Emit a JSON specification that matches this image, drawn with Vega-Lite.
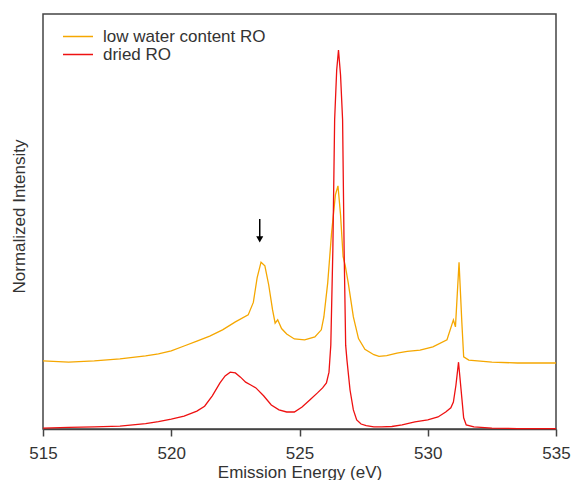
{
  "$schema": "https://vega.github.io/schema/vega-lite/v6.json",
  "autosize": {"type": "none"},
  "width": 513,
  "height": 415,
  "padding": {"left": 43, "top": 14, "right": 15, "bottom": 51},
  "background": "white",
  "config": {
    "font": "Liberation Sans",
    "view": {"stroke": "#444444", "strokeWidth": 1.5},
    "axis": {"grid": false}
  },
  "datasets": {
    "spectra": [
      {"s": "dried RO", "e": 515.0, "v": 0.002},
      {"s": "dried RO", "e": 516.0, "v": 0.004},
      {"s": "dried RO", "e": 517.0, "v": 0.005},
      {"s": "dried RO", "e": 518.0, "v": 0.007},
      {"s": "dried RO", "e": 518.5, "v": 0.010},
      {"s": "dried RO", "e": 519.0, "v": 0.013},
      {"s": "dried RO", "e": 519.5, "v": 0.018},
      {"s": "dried RO", "e": 520.0, "v": 0.024},
      {"s": "dried RO", "e": 520.5, "v": 0.031},
      {"s": "dried RO", "e": 521.0, "v": 0.043},
      {"s": "dried RO", "e": 521.3, "v": 0.055},
      {"s": "dried RO", "e": 521.6, "v": 0.080},
      {"s": "dried RO", "e": 521.9, "v": 0.111},
      {"s": "dried RO", "e": 522.1, "v": 0.128},
      {"s": "dried RO", "e": 522.3, "v": 0.137},
      {"s": "dried RO", "e": 522.5, "v": 0.135},
      {"s": "dried RO", "e": 522.7, "v": 0.125},
      {"s": "dried RO", "e": 522.9, "v": 0.113},
      {"s": "dried RO", "e": 523.1, "v": 0.106},
      {"s": "dried RO", "e": 523.3, "v": 0.099},
      {"s": "dried RO", "e": 523.6, "v": 0.080},
      {"s": "dried RO", "e": 523.9, "v": 0.058},
      {"s": "dried RO", "e": 524.2, "v": 0.046},
      {"s": "dried RO", "e": 524.5, "v": 0.041},
      {"s": "dried RO", "e": 524.8, "v": 0.041},
      {"s": "dried RO", "e": 525.1, "v": 0.053},
      {"s": "dried RO", "e": 525.4, "v": 0.070},
      {"s": "dried RO", "e": 525.7, "v": 0.087},
      {"s": "dried RO", "e": 525.9, "v": 0.099},
      {"s": "dried RO", "e": 526.05, "v": 0.111},
      {"s": "dried RO", "e": 526.15, "v": 0.137},
      {"s": "dried RO", "e": 526.22, "v": 0.202},
      {"s": "dried RO", "e": 526.3, "v": 0.431},
      {"s": "dried RO", "e": 526.37, "v": 0.745},
      {"s": "dried RO", "e": 526.45, "v": 0.865},
      {"s": "dried RO", "e": 526.52, "v": 0.913},
      {"s": "dried RO", "e": 526.6, "v": 0.853},
      {"s": "dried RO", "e": 526.68, "v": 0.745},
      {"s": "dried RO", "e": 526.74, "v": 0.431},
      {"s": "dried RO", "e": 526.8, "v": 0.202},
      {"s": "dried RO", "e": 526.85, "v": 0.166},
      {"s": "dried RO", "e": 526.97, "v": 0.094},
      {"s": "dried RO", "e": 527.1, "v": 0.046},
      {"s": "dried RO", "e": 527.23, "v": 0.022},
      {"s": "dried RO", "e": 527.4, "v": 0.012},
      {"s": "dried RO", "e": 527.6, "v": 0.008},
      {"s": "dried RO", "e": 527.9, "v": 0.005},
      {"s": "dried RO", "e": 528.2, "v": 0.005},
      {"s": "dried RO", "e": 528.6, "v": 0.006},
      {"s": "dried RO", "e": 529.0, "v": 0.010},
      {"s": "dried RO", "e": 529.5, "v": 0.017},
      {"s": "dried RO", "e": 530.0, "v": 0.022},
      {"s": "dried RO", "e": 530.4, "v": 0.029},
      {"s": "dried RO", "e": 530.7, "v": 0.041},
      {"s": "dried RO", "e": 530.9, "v": 0.051},
      {"s": "dried RO", "e": 531.0, "v": 0.065},
      {"s": "dried RO", "e": 531.1, "v": 0.106},
      {"s": "dried RO", "e": 531.2, "v": 0.161},
      {"s": "dried RO", "e": 531.3, "v": 0.094},
      {"s": "dried RO", "e": 531.4, "v": 0.027},
      {"s": "dried RO", "e": 531.5, "v": 0.010},
      {"s": "dried RO", "e": 531.8, "v": 0.005},
      {"s": "dried RO", "e": 532.5, "v": 0.002},
      {"s": "dried RO", "e": 533.5, "v": 0.001},
      {"s": "dried RO", "e": 535.0, "v": 0.001},
      {"s": "low water content RO", "e": 515.0, "v": 0.164},
      {"s": "low water content RO", "e": 516.0, "v": 0.161},
      {"s": "low water content RO", "e": 517.0, "v": 0.164},
      {"s": "low water content RO", "e": 518.0, "v": 0.169},
      {"s": "low water content RO", "e": 519.0, "v": 0.176},
      {"s": "low water content RO", "e": 519.5, "v": 0.181},
      {"s": "low water content RO", "e": 520.0, "v": 0.188},
      {"s": "low water content RO", "e": 520.5, "v": 0.200},
      {"s": "low water content RO", "e": 521.0, "v": 0.212},
      {"s": "low water content RO", "e": 521.5, "v": 0.224},
      {"s": "low water content RO", "e": 522.0, "v": 0.239},
      {"s": "low water content RO", "e": 522.5, "v": 0.258},
      {"s": "low water content RO", "e": 523.0, "v": 0.275},
      {"s": "low water content RO", "e": 523.2, "v": 0.305},
      {"s": "low water content RO", "e": 523.35, "v": 0.365},
      {"s": "low water content RO", "e": 523.5, "v": 0.402},
      {"s": "low water content RO", "e": 523.65, "v": 0.393},
      {"s": "low water content RO", "e": 523.8, "v": 0.347},
      {"s": "low water content RO", "e": 523.95, "v": 0.287},
      {"s": "low water content RO", "e": 524.05, "v": 0.255},
      {"s": "low water content RO", "e": 524.15, "v": 0.263},
      {"s": "low water content RO", "e": 524.3, "v": 0.242},
      {"s": "low water content RO", "e": 524.5, "v": 0.229},
      {"s": "low water content RO", "e": 524.8, "v": 0.217},
      {"s": "low water content RO", "e": 525.2, "v": 0.215},
      {"s": "low water content RO", "e": 525.6, "v": 0.222},
      {"s": "low water content RO", "e": 525.85, "v": 0.239},
      {"s": "low water content RO", "e": 525.95, "v": 0.270},
      {"s": "low water content RO", "e": 526.1, "v": 0.352},
      {"s": "low water content RO", "e": 526.25, "v": 0.472},
      {"s": "low water content RO", "e": 526.4, "v": 0.564},
      {"s": "low water content RO", "e": 526.5, "v": 0.586},
      {"s": "low water content RO", "e": 526.6, "v": 0.516},
      {"s": "low water content RO", "e": 526.7, "v": 0.415},
      {"s": "low water content RO", "e": 526.78, "v": 0.395},
      {"s": "low water content RO", "e": 526.9, "v": 0.352},
      {"s": "low water content RO", "e": 527.1, "v": 0.270},
      {"s": "low water content RO", "e": 527.3, "v": 0.218},
      {"s": "low water content RO", "e": 527.55, "v": 0.192},
      {"s": "low water content RO", "e": 527.9, "v": 0.179},
      {"s": "low water content RO", "e": 528.1, "v": 0.175},
      {"s": "low water content RO", "e": 528.4, "v": 0.177},
      {"s": "low water content RO", "e": 528.8, "v": 0.183},
      {"s": "low water content RO", "e": 529.2, "v": 0.187},
      {"s": "low water content RO", "e": 529.7, "v": 0.190},
      {"s": "low water content RO", "e": 530.2, "v": 0.198},
      {"s": "low water content RO", "e": 530.75, "v": 0.215},
      {"s": "low water content RO", "e": 531.0, "v": 0.263},
      {"s": "low water content RO", "e": 531.08, "v": 0.246},
      {"s": "low water content RO", "e": 531.22, "v": 0.402},
      {"s": "low water content RO", "e": 531.33, "v": 0.256},
      {"s": "low water content RO", "e": 531.4, "v": 0.174},
      {"s": "low water content RO", "e": 531.6, "v": 0.166},
      {"s": "low water content RO", "e": 532.5, "v": 0.161},
      {"s": "low water content RO", "e": 533.5, "v": 0.159},
      {"s": "low water content RO", "e": 535.0, "v": 0.159}
    ],
    "arrow": [
      {"e": 523.45, "top": 0.506, "bottom": 0.462, "head": 0.457}
    ]
  },
  "layer": [
    {
      "data": {"name": "spectra"},
      "transform": [{"filter": "datum.s === 'low water content RO'"}],
      "mark": {"type": "line", "strokeWidth": 1.3},
      "encoding": {
        "x": {
          "field": "e", "type": "quantitative",
          "scale": {"domain": [515, 535], "nice": false, "zero": false},
          "axis": {
            "title": "Emission Energy (eV)",
            "values": [515, 520, 525, 530, 535],
            "format": "d",
            "labelFlush": false,
            "domainColor": "#444444", "domainWidth": 1.5,
            "tickColor": "#444444", "tickWidth": 1.5, "tickSize": 7,
            "labelFontSize": 17, "labelColor": "#333333", "labelPadding": 9,
            "labelFont": "Liberation Sans",
            "titleFont": "Liberation Sans", "titleFontSize": 17, "titleFontWeight": "normal",
            "titleColor": "#333333", "titlePadding": 3
          }
        },
        "y": {
          "field": "v", "type": "quantitative",
          "scale": {"domain": [0, 1], "nice": false},
          "axis": {
            "title": "Normalized Intensity",
            "labels": false, "ticks": false, "domain": false,
            "titleFont": "Liberation Sans", "titleFontSize": 17, "titleFontWeight": "normal",
            "titleColor": "#333333", "titlePadding": 15, "titleY": 202
          }
        },
        "color": {
          "field": "s", "type": "nominal",
          "scale": {"domain": ["low water content RO", "dried RO"], "range": ["#F5A700", "#EE1111"]},
          "legend": {
            "title": null,
            "orient": "none",
            "legendX": 19,
            "legendY": 14,
            "symbolType": "stroke",
            "symbolSize": 900,
            "symbolStrokeWidth": 1.5,
            "clipHeight": 17,
            "labelFontSize": 17,
            "labelFont": "Liberation Sans",
            "labelColor": "#333333",
            "labelLimit": 400,
            "labelOffset": 9,
            "rowPadding": 0,
            "padding": 0
          }
        }
      }
    },
    {
      "data": {"name": "spectra"},
      "transform": [{"filter": "datum.s === 'dried RO'"}],
      "mark": {"type": "line", "strokeWidth": 1.3},
      "encoding": {
        "x": {"field": "e", "type": "quantitative"},
        "y": {"field": "v", "type": "quantitative"},
        "color": {"field": "s", "type": "nominal"}
      }
    },
    {
      "data": {"name": "arrow"},
      "mark": {"type": "rule", "color": "black", "strokeWidth": 1.5},
      "encoding": {
        "x": {"field": "e", "type": "quantitative"},
        "y": {"field": "top", "type": "quantitative"},
        "y2": {"field": "bottom"}
      }
    },
    {
      "data": {"name": "arrow"},
      "mark": {"type": "point", "shape": "triangle-down", "filled": true, "color": "black", "size": 50, "opacity": 1},
      "encoding": {
        "x": {"field": "e", "type": "quantitative"},
        "y": {"field": "head", "type": "quantitative"}
      }
    }
  ]
}
